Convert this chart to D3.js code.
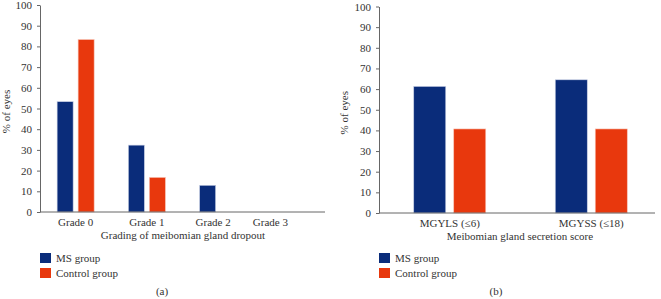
<!DOCTYPE html>
<html>
<head>
<meta charset="utf-8">
<script src="https://cdn.jsdelivr.net/npm/d3@7"></script>
<style>
    body { margin: 0; background: #fff; }
    svg text { font-family: "Liberation Serif", "DejaVu Serif", serif; fill: #333; }
</style>
</head>
<body>
<svg id="chart" width="661" height="299"></svg>
<script>
// data
const seriesNames = ["MS group", "Control group"];
const gradeCategories = ["Grade 0", "Grade 1", "Grade 2", "Grade 3"];
const gradeMS = [53.3, 32.3, 12.9, 0];
const gradeControl = [83.3, 16.7, 0, 0];
const scoreCategories = ["MGYLS (\u22646)", "MGYSS (\u226418)"];
const scoreMS = [61.3, 64.5];
const scoreControl = [40.7, 40.7];
const yTicks = [0, 10, 20, 30, 40, 50, 60, 70, 80, 90, 100];

const colors = ["#0a2c7a", "#e8380d"];
const fs = 11;

class GroupedBar {
    constructor(_config) {
        this.config = _config;
        this.initVis();
    }

    initVis() {
        const vis = this;
        const c = vis.config;
        vis.g = d3.select("#chart").append("g");

        vis.xScale = d3.scaleBand()
            .domain(c.categories)
            .range([c.x0, c.x1]);

        vis.yScale = d3.scaleLinear()
            .domain([0, 100])
            .range([c.yBottom, c.yTop]);

        // y axis
        const yAxis = vis.g.append("g")
            .attr("transform", `translate(${c.x0},0)`)
            .call(d3.axisLeft(vis.yScale).tickValues(yTicks).tickSize(3).tickSizeOuter(0).tickPadding(5));
        yAxis.selectAll("text").attr("font-size", fs).attr("fill", "#333");
        yAxis.selectAll("line").attr("stroke", "#666");
        yAxis.select(".domain").attr("stroke", "#666");

        // y label
        vis.g.append("text")
            .attr("transform", `translate(${c.yLabelX},${(c.yTop + c.yBottom) / 2 + 3}) rotate(-90)`)
            .attr("text-anchor", "middle")
            .attr("font-size", fs)
            .text("% of eyes");

        // bars
        const series = [c.ms, c.control];
        const inner = d3.scaleBand()
            .domain([0, 1])
            .range([0, c.barW * 2 + c.barGap])
            .paddingInner(c.barGap / (c.barW + c.barGap));

        c.categories.forEach((cat, i) => {
            const left = vis.xScale(cat) + vis.xScale.bandwidth() / 2 - (c.barW * 2 + c.barGap) / 2;
            series.forEach((s, k) => {
                if (s[i] <= 0) return;
                vis.g.append("rect")
                    .attr("x", left + inner(k))
                    .attr("width", inner.bandwidth())
                    .attr("y", vis.yScale(s[i]))
                    .attr("height", vis.yScale(0) - vis.yScale(s[i]))
                    .attr("fill", colors[k])
                    .attr("stroke", k === 0 ? "#c8d0e4" : "#f7c2b4")
                    .attr("stroke-width", 0.6);
            });
        });

        // x axis
        const xAxis = vis.g.append("g")
            .attr("transform", `translate(0,${c.yBottom})`)
            .call(d3.axisBottom(vis.xScale).tickSize(0).tickPadding(6));
        xAxis.select(".domain").attr("stroke", "#666").attr("d", `M${c.x0},0H${c.xEnd}`);
        xAxis.selectAll("text").attr("font-size", fs).attr("fill", "#333");
        if (c.labelShift) {
            xAxis.selectAll(".tick text").attr("dx", (d, i) => c.labelShift[i]);
        }

        vis.g.append("text")
            .attr("x", c.xTitleX)
            .attr("y", c.yBottom + 27)
            .attr("text-anchor", "middle")
            .attr("font-size", fs)
            .text(c.xTitle);

        // legend
        seriesNames.forEach((name, k) => {
            vis.g.append("rect")
                .attr("x", c.x0)
                .attr("y", 253 + k * 15)
                .attr("width", 11)
                .attr("height", 10)
                .attr("fill", colors[k]);
            vis.g.append("text")
                .attr("x", c.x0 + 16)
                .attr("y", 262 + k * 15)
                .attr("font-size", fs)
                .text(name);
        });

        vis.g.append("text")
            .attr("x", c.panelX)
            .attr("y", 295)
            .attr("text-anchor", "middle")
            .attr("font-size", fs)
            .text(c.panel);
    }
}

new GroupedBar({
    categories: gradeCategories, ms: gradeMS, control: gradeControl,
    x0: 40, x1: 325, xEnd: 325, yTop: 5, yBottom: 212,
    barW: 16, barGap: 5, yLabelX: 10,
    labelShift: [0, 0, -5, -19],
    xTitle: "Grading of meibomian gland dropout", xTitleX: 183,
    panel: "(a)", panelX: 162
});

new GroupedBar({
    categories: scoreCategories, ms: scoreMS, control: scoreControl,
    x0: 379, x1: 662, xEnd: 655, yTop: 6.5, yBottom: 213,
    barW: 32, barGap: 8, yLabelX: 348,
    xTitle: "Meibomian gland secretion score", xTitleX: 520,
    panel: "(b)", panelX: 496
});
</script>
</body>
</html>
